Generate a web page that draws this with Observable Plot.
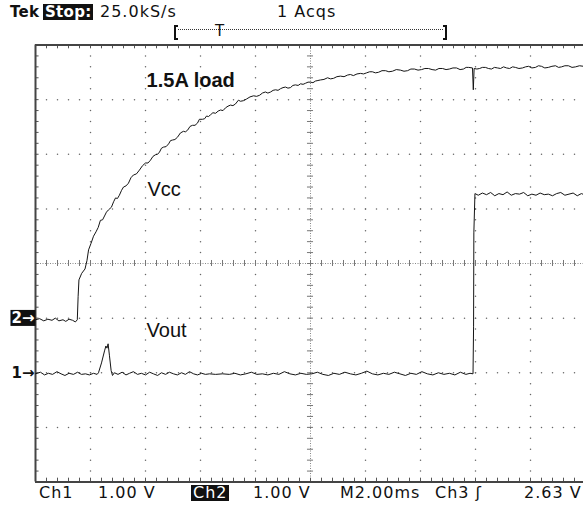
<!DOCTYPE html>
<html><head><meta charset="utf-8">
<script src="https://cdn.jsdelivr.net/npm/d3@7"></script>
<script src="https://cdn.jsdelivr.net/npm/@observablehq/plot@0.6"></script>
<style>
body{margin:0;background:#fff;}
#wrap{position:relative;width:583px;height:506px;overflow:hidden;background:#fff;}
#wrap svg{position:absolute;left:0;top:0;}
.hud{position:absolute;font-family:"DejaVu Sans",sans-serif;font-size:16px;letter-spacing:1px;line-height:16px;color:#111;white-space:pre;}
.inv{background:#111;color:#fff;padding:0 1px 0 2px;}
.bold{font-weight:bold;font-size:15px;letter-spacing:0.3px;}
.brk{position:absolute;border:2px solid #111;height:11px;width:2px;}
</style></head><body><div id="wrap"></div>
<script>
// ---- data (time in ms, value in volts) ----
const ch2Trace = [[0.00,-0.03],[0.15,-0.01],[0.30,-0.05],[0.45,-0.02],[0.60,-0.04],[0.72,0.00],[0.85,-0.05],[1.00,-0.03],[1.10,-0.06],[1.22,-0.02],[1.35,-0.04],[1.45,-0.07],[1.52,-0.03],
[1.55,0.40],[1.58,0.70],[1.68,0.82],[1.80,0.90],[1.87,1.05],[1.93,1.25],[2.02,1.37],[2.11,1.50],[2.20,1.58],[2.28,1.66],[2.36,1.79],[2.44,1.80],[2.51,1.87],[2.58,1.94],[2.65,1.98],[2.76,2.03],[2.84,2.13],[2.91,2.20],[2.98,2.19],[3.05,2.25],[3.13,2.34],[3.20,2.40],[3.29,2.42],[3.38,2.47],[3.47,2.57],[3.56,2.62],[3.67,2.64],[3.78,2.71],[3.89,2.79],[4.00,2.84],[4.09,2.84],[4.18,2.89],[4.27,2.96],[4.36,2.99],[4.44,3.00],[4.51,3.04],[4.58,3.11],[4.65,3.13],[4.75,3.14],[4.84,3.19],[4.91,3.25],[4.98,3.26],[5.07,3.27],[5.16,3.31],[5.27,3.39],[5.38,3.42],[5.45,3.41],[5.53,3.44],[5.62,3.51],[5.71,3.53],[5.80,3.53],[5.89,3.57],[5.96,3.64],[6.07,3.64],[6.15,3.65],[6.22,3.70],[6.29,3.69],[6.36,3.72],[6.45,3.76],[6.55,3.75],[6.64,3.79],[6.73,3.81],[6.82,3.80],[6.91,3.85],[7.00,3.88],[7.09,3.90],[7.18,3.89],[7.27,3.92],[7.38,3.99],[7.45,3.97],[7.56,3.98],[7.67,4.01],[7.80,4.05],[7.93,4.07],[8.04,4.06],[8.15,4.08],[8.25,4.12],[8.36,4.14],[8.45,4.12],[8.55,4.14],[8.64,4.17],[8.73,4.18],[8.82,4.17],[8.91,4.20],[9.00,4.22],[9.09,4.23],[9.18,4.21],[9.27,4.22],[9.36,4.26],[9.45,4.27],[9.55,4.26],[9.64,4.29],[9.73,4.28],[9.82,4.30],[9.91,4.32],[10.00,4.32],[10.09,4.31],[10.18,4.34],[10.27,4.35],[10.36,4.36],[10.49,4.37],[10.62,4.40],[10.73,4.38],[10.84,4.39],[10.96,4.42],[11.09,4.43],[11.22,4.42],[11.35,4.45],[11.45,4.46],[11.56,4.44],[11.69,4.47],[11.82,4.48],[11.93,4.47],[12.04,4.49],[12.15,4.51],[12.25,4.51],[12.36,4.49],[12.47,4.50],[12.60,4.53],[12.73,4.53],[12.85,4.51],[12.98,4.52],[13.12,4.55],[13.27,4.54],[13.40,4.52],[13.53,4.53],[13.65,4.56],[13.78,4.56],[13.91,4.54],[14.04,4.55],[14.16,4.57],[14.29,4.57],[14.42,4.55],[14.55,4.54],[14.67,4.57],[14.80,4.57],[14.93,4.55],[15.05,4.56],[15.18,4.58],[15.31,4.58],[15.44,4.55],[15.56,4.56],[15.66,4.59],[15.75,4.59],[15.89,4.58],[15.92,4.18],[15.95,4.57],[16.05,4.56],[16.15,4.57],[16.25,4.59],[16.36,4.59],[16.47,4.57],[16.58,4.56],[16.69,4.59],[16.80,4.58],[16.91,4.57],[17.02,4.60],[17.13,4.58],[17.24,4.57],[17.35,4.60],[17.45,4.59],[17.58,4.57],[17.71,4.58],[17.82,4.60],[17.93,4.61],[18.05,4.58],[18.18,4.59],[18.29,4.62],[18.40,4.61],[18.52,4.58],[18.65,4.59],[18.78,4.61],[18.91,4.62],[19.02,4.59],[19.13,4.60],[19.25,4.62],[19.38,4.62],[19.51,4.59],[19.64,4.60],[19.78,4.62],[19.93,4.61]];

const ch1Trace = [[0.00,-0.02],[0.18,0.01],[0.33,-0.04],[0.47,-0.01],[0.62,-0.03],[0.78,0.02],[0.93,-0.02],[1.07,-0.05],[1.22,-0.01],[1.38,-0.03],[1.53,0.01],[1.67,-0.03],[1.82,-0.02],[1.96,-0.04],[2.11,-0.01],[2.24,-0.03],
[2.29,0.00],[2.40,0.18],[2.51,0.40],[2.56,0.49],[2.60,0.45],[2.64,0.53],[2.69,0.31],[2.75,0.04],[2.80,-0.05],[2.87,0.00],
[3.00,-0.03],[3.15,0.01],[3.29,-0.04],[3.42,-0.01],[3.56,0.02],[3.71,-0.03],[3.85,-0.01],[4.00,-0.04],[4.15,0.01],[4.29,-0.02],[4.44,-0.05],[4.58,0.00],[4.73,-0.03],[4.87,0.01],[5.02,-0.02],[5.16,-0.04],[5.31,0.00],[5.45,-0.03],[5.60,0.02],[5.75,-0.02],[5.89,-0.04],[6.04,-0.01],[6.18,-0.03],[6.33,-0.02],[6.55,-0.03],[6.80,-0.02],[7.05,-0.03],[7.25,-0.01],[7.45,-0.04],[7.65,-0.02],[7.85,0.01],[8.05,-0.03],[8.25,-0.02],[8.45,-0.04],[8.65,-0.01],[8.85,-0.03],[9.05,0.02],[9.25,-0.02],[9.45,-0.04],[9.65,-0.01],[9.85,-0.03],[10.05,-0.02],[10.25,0.01],[10.45,-0.03],[10.65,-0.05],[10.85,-0.01],[11.05,-0.03],[11.25,0.01],[11.45,-0.02],[11.65,-0.04],[11.85,-0.01],[12.05,0.03],[12.25,-0.02],[12.45,-0.04],[12.65,-0.01],[12.85,-0.03],[13.05,0.01],[13.25,-0.02],[13.45,-0.05],[13.65,-0.01],[13.85,-0.03],[14.05,0.02],[14.25,-0.02],[14.45,-0.04],[14.65,0.00],[14.85,-0.03],[15.05,-0.01],[15.25,-0.04],[15.45,0.01],[15.65,-0.03],[15.80,-0.01],[15.91,-0.02],
[15.93,0.84],[15.94,2.56],[15.98,3.28],
[16.10,3.25],[16.25,3.29],[16.40,3.26],[16.55,3.30],[16.70,3.24],[16.85,3.28],[17.00,3.26],[17.15,3.31],[17.30,3.25],[17.45,3.28],[17.60,3.27],[17.75,3.30],[17.90,3.24],[18.05,3.27],[18.20,3.25],[18.35,3.29],[18.50,3.26],[18.65,3.27],[18.80,3.24],[18.95,3.28],[19.10,3.30],[19.25,3.25],[19.40,3.27],[19.55,3.29],[19.70,3.24],[19.85,3.28],[19.95,3.26]];

const voltsPerDiv = 1.0;          // both channels
const ch1Ground = -2;             // divisions from centre
const ch2Ground = -1;
const timeSpan = [0, 20];         // 10 div x 2.00 ms
const divSpan = [-4, 4];

const traceLabels = ["1.5A load", "Vcc", "Vout"];
const traceLabelT = [4.04, 4.07, 4.04];      // ms
const traceLabelDiv = [3.35, 1.345, -1.227];  // divisions
const markerLabels = ["2\u2192", "1\u2192"];
const headerTexts = ["Tek", "Stop:", "25.0kS/s", "1 Acqs"];
const footerTexts = ["Ch1", "1.00 V", "Ch2", "1.00 V", "M2.00ms", "Ch3 \u0283", "2.63 V"];

// ---- graticule positions ----
const majorT = d3.range(0, 20.001, 2);
const minorT = d3.range(0, 100.5, 2).map(d => d / 5);
const majorDiv = d3.range(-4, 4.001, 1);
const minorDiv = d3.range(-20, 20.5, 1).map(d => d / 5);
const near = (a, b) => Math.abs(a - b) < 1e-6;

const gridDots = [];
for (const t of majorT) if (!near(t,0) && !near(t,10) && !near(t,20)) for (const d of minorDiv) gridDots.push({t, d});
for (const d of majorDiv) if (!near(d,-4) && !near(d,0) && !near(d,4)) for (const t of minorT) gridDots.push({t, d});

const ch2 = ch2Trace.map(([t, v]) => ({t, div: v / voltsPerDiv + ch2Ground}));
const ch1 = ch1Trace.map(([t, v]) => ({t, div: v / voltsPerDiv + ch1Ground}));
const labels = traceLabels.map((text, i) => ({text, t: traceLabelT[i], div: traceLabelDiv[i]}));
const markers = [{text: markerLabels[0], div: ch2Ground, inv: true}, {text: markerLabels[1], div: ch1Ground, inv: false}];

const svg = Plot.plot({
  width: 583, height: 506,
  marginLeft: 35, marginRight: 0, marginTop: 44.5, marginBottom: 24.5,
  x: {domain: timeSpan, range: [35, 585], axis: null},
  y: {domain: divSpan, range: [481.5, 44.5], axis: null},
  style: {background: "transparent", overflow: "visible"},
  marks: [
    Plot.dot(gridDots, {x: "t", y: "d", r: 0.75, fill: "#666"}),
    Plot.ruleX([10], {y1: -4, y2: 4, stroke: "#888", strokeDasharray: "1,1.5"}),
    Plot.ruleY([0], {x1: 0, x2: 20, stroke: "#888", strokeDasharray: "1,1.5"}),
    Plot.ruleX(minorT, {y1: -0.055, y2: 0.055, stroke: "#777"}),
    Plot.ruleY(minorDiv, {x1: 9.89, x2: 10.11, stroke: "#777"}),
    Plot.ruleX(minorT, {y1: 4, y2: 3.93, stroke: "#555"}),
    Plot.ruleX(minorT, {y1: -4, y2: -3.93, stroke: "#555"}),
    Plot.ruleY(minorDiv, {x1: 0, x2: 0.13, stroke: "#555"}),
    Plot.ruleX([0], {y1: -4, y2: 4, stroke: "#444", strokeWidth: 2}),
    Plot.ruleY([4, -4], {x1: 0, x2: 20, stroke: "#444", strokeWidth: 2}),
    Plot.line(ch2, {x: "t", y: "div", stroke: "#151515", strokeWidth: 1}),
    Plot.line(ch1, {x: "t", y: "div", stroke: "#151515", strokeWidth: 1}),
    Plot.text(labels.slice(0, 1), {x: "t", y: "div", text: "text", textAnchor: "start", fontFamily: "Liberation Sans, Arial, sans-serif", fontSize: 20, fontWeight: "bold", fill: "#111"}),
    Plot.text(labels.slice(1), {x: "t", y: "div", text: "text", textAnchor: "start", fontFamily: "Liberation Sans, Arial, sans-serif", fontSize: 20, fill: "#111"}),
    Plot.text(markers.filter(m => m.inv), {x: 0, y: "div", text: "text", textAnchor: "end", dx: -1, fontFamily: "DejaVu Sans, sans-serif", fontSize: 15, fontWeight: "bold", fill: "white"}),
    Plot.text(markers.filter(m => !m.inv), {x: 0, y: "div", text: "text", textAnchor: "end", dx: -1, fontFamily: "DejaVu Sans, sans-serif", fontSize: 15, fontWeight: "bold", fill: "#111"})
  ]
});
const wrap = document.getElementById("wrap");
wrap.appendChild(svg);

// black boxes behind inverted (white) marker text
svg.querySelectorAll("text").forEach(el => {
  if (getComputedStyle(el).fill === "rgb(255, 255, 255)") {
    const bb = el.getBBox();
    const r = document.createElementNS("http://www.w3.org/2000/svg", "rect");
    r.setAttribute("x", bb.x - 1); r.setAttribute("y", bb.y + 1);
    r.setAttribute("width", bb.width + 2); r.setAttribute("height", bb.height - 2);
    r.setAttribute("fill", "#111");
    if (el.getAttribute("transform")) r.setAttribute("transform", el.getAttribute("transform"));
    el.parentNode.insertBefore(r, el);
  }
});

// header / footer readouts
const headerLeft = [10, 43, 100, 277];
const footerLeft = [39, 98, 191, 253, 340, 435, 524];
function hud(text, left, top, cls) {
  const s = document.createElement("span");
  s.className = "hud" + (cls ? " " + cls : "");
  s.textContent = text;
  s.style.left = left + "px"; s.style.top = top + "px";
  wrap.appendChild(s);
}
headerTexts.forEach((t, i) => hud(t, headerLeft[i], t === "Tek" || t === "Stop:" ? 4 : 3.5, t === "Stop:" ? "inv bold" : (t === "Tek" ? "bold" : "")));
footerTexts.forEach((t, i) => hud(t, footerLeft[i], 484.5, i === 2 ? "inv" : ""));

// trigger/record bar
const b1 = document.createElement("div"); b1.className = "brk";
b1.style.left = "174px"; b1.style.top = "25px"; b1.style.borderRight = "none"; wrap.appendChild(b1);
const b2 = document.createElement("div"); b2.className = "brk";
b2.style.left = "443px"; b2.style.top = "25px"; b2.style.borderLeft = "none"; wrap.appendChild(b2);
const ln = document.createElement("div");
Object.assign(ln.style, {position: "absolute", left: "178px", top: "29px", width: "265px", borderTop: "1px dotted #333"});
wrap.appendChild(ln);
const tm = document.createElement("span");
tm.className = "hud"; tm.textContent = "T";
Object.assign(tm.style, {left: "215px", top: "23px", fontSize: "15px", letterSpacing: "0"});
wrap.appendChild(tm);
</script></body></html>
